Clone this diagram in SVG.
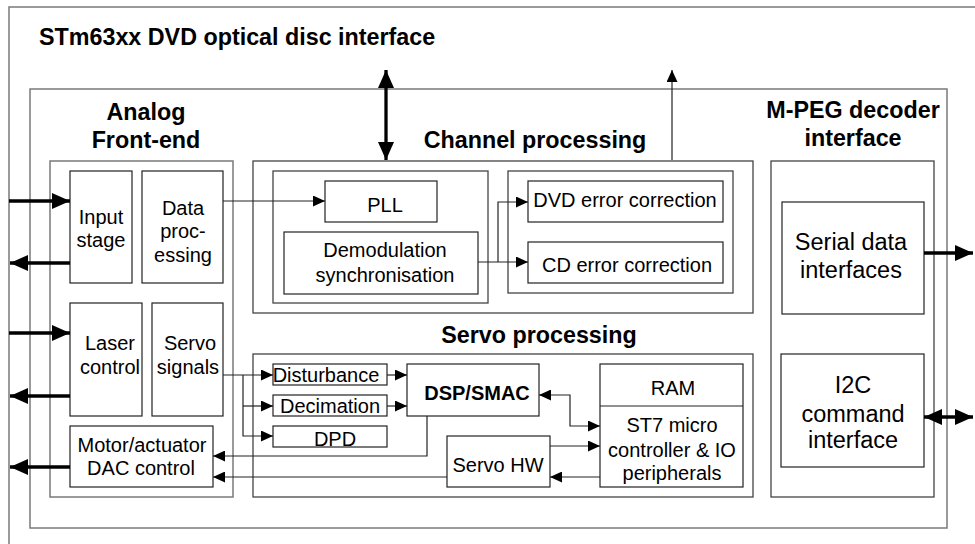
<svg xmlns="http://www.w3.org/2000/svg" width="975" height="544" viewBox="0 0 975 544">
<style>
.frame{fill:none;stroke:#7a7a7a;stroke-width:1.5}
.grp{fill:none;stroke:#444;stroke-width:1.3}
.box{fill:#fff;stroke:#222;stroke-width:1.2}
.t{font-family:"Liberation Sans",Arial,sans-serif;font-size:20px;fill:#000;text-anchor:middle}
.L{font-size:23.5px}
.h{font-family:"Liberation Sans",Arial,sans-serif;font-size:23.3px;font-weight:bold;fill:#000;text-anchor:middle}
.b{font-weight:bold}
.c{fill:none;stroke:#222;stroke-width:1.2}
.k{fill:none;stroke:#000;stroke-width:3.3}
</style>
<defs>
<marker id="a" markerUnits="userSpaceOnUse" markerWidth="12" markerHeight="11" refX="12" refY="5.5" orient="auto-start-reverse"><path d="M0,0 L12,5.5 L0,11 z" fill="#000"/></marker>
<marker id="A" markerUnits="userSpaceOnUse" markerWidth="18" markerHeight="16" refX="18" refY="8" orient="auto-start-reverse"><path d="M0,0 L18,8 L0,16 z" fill="#000"/></marker>
</defs>
<rect width="975" height="544" fill="#fff"/>

<g id="frame-outer">
<rect class="frame" x="9" y="7" width="1000" height="600"/>
<text class="h" x="39" y="45" style="text-anchor:start">STm63xx DVD optical disc interface</text>
</g>
<g id="frame-inner"><rect class="frame" x="30" y="89" width="917" height="439"/></g>

<g id="analog-frontend">
<rect class="frame" x="50" y="161" width="183" height="336"/>
<text class="h" x="146" y="120">Analog</text>
<text class="h" x="146" y="148">Front-end</text>
</g>
<g id="input-stage"><rect class="box" x="70" y="171" width="62" height="112"/>
<text class="t" x="101" y="224">Input</text><text class="t" x="101" y="247">stage</text></g>
<g id="data-processing"><rect class="box" x="142" y="171" width="81" height="112"/>
<text class="t" x="183" y="215">Data</text><text class="t" x="183" y="238">proc-</text><text class="t" x="183" y="262">essing</text></g>
<g id="laser-control"><rect class="box" x="70" y="303" width="72" height="113"/>
<text class="t" x="110" y="350">Laser</text><text class="t" x="110" y="374">control</text></g>
<g id="servo-signals"><rect class="box" x="152" y="303" width="71" height="113"/>
<text class="t" x="190" y="350">Servo</text><text class="t" x="188" y="374">signals</text></g>
<g id="motor-dac"><rect class="box" x="70" y="426" width="143" height="61"/>
<text class="t" x="142" y="452">Motor/actuator</text><text class="t" x="141" y="475">DAC control</text></g>

<g id="channel-processing">
<rect class="grp" x="253" y="161" width="500" height="152"/>
<text class="h" x="535" y="148">Channel processing</text>
<rect class="grp" x="273" y="171" width="215" height="132"/>
<rect class="grp" x="508" y="171" width="225" height="122"/>
</g>
<g id="pll"><rect class="box" x="325" y="181" width="112" height="41"/><text class="t" x="385" y="212">PLL</text></g>
<g id="demod"><rect class="box" x="284" y="232" width="194" height="62"/>
<text class="t" x="385" y="257">Demodulation</text><text class="t" x="385" y="282">synchronisation</text></g>
<g id="dvd-ecc"><rect class="box" x="528" y="181" width="195" height="41"/><text class="t" x="625" y="207">DVD error correction</text></g>
<g id="cd-ecc"><rect class="box" x="528" y="242" width="195" height="41"/><text class="t" x="627" y="272">CD error correction</text></g>

<g id="servo-processing">
<rect class="grp" x="253" y="354" width="500" height="143"/>
<text class="h" x="539" y="343">Servo processing</text>
</g>
<g id="disturbance"><rect class="box" x="273" y="364" width="114" height="21"/><text class="t" x="326" y="382">Disturbance</text></g>
<g id="decimation"><rect class="box" x="273" y="395" width="114" height="21"/><text class="t" x="330" y="413">Decimation</text></g>
<g id="dpd"><rect class="box" x="273" y="426" width="114" height="21"/><text class="t" x="335" y="446">DPD</text></g>
<g id="dsp-smac"><rect class="box" x="407" y="364" width="132" height="52"/><text class="t b" x="477" y="400">DSP/SMAC</text></g>
<g id="st7"><rect class="box" x="600" y="364" width="143" height="123"/>
<line x1="600" y1="406" x2="743" y2="406" stroke="#222" stroke-width="1.2"/>
<text class="t" x="673" y="395">RAM</text>
<text class="t" x="672" y="432">ST7 micro</text><text class="t" x="672" y="457">controller &amp; IO</text><text class="t" x="672" y="480">peripherals</text></g>
<g id="servo-hw"><rect class="box" x="447" y="436" width="103" height="51"/><text class="t" x="498" y="472">Servo HW</text></g>

<g id="mpeg-interface">
<rect class="grp" x="771" y="161" width="163" height="336"/>
<text class="h" x="853" y="118">M-PEG decoder</text>
<text class="h" x="853" y="146">interface</text>
</g>
<g id="serial-data"><rect class="box" x="782" y="202" width="142" height="112"/>
<text class="t L" x="851" y="250">Serial data</text><text class="t L" x="851" y="278">interfaces</text></g>
<g id="i2c"><rect class="box" x="781" y="354" width="143" height="113"/>
<text class="t L" x="853" y="393">I2C</text><text class="t L" x="853" y="422">command</text><text class="t L" x="853" y="448">interface</text></g>

<g id="connectors">
<path class="c" d="M223,201 H325" marker-end="url(#a)"/>
<path class="c" d="M478,262 H528" marker-end="url(#a)"/>
<path class="c" d="M498,262 V202 H528" marker-end="url(#a)"/>
<path class="c" d="M223,375 H273" marker-end="url(#a)"/>
<path class="c" d="M243,375 V436 H273" marker-end="url(#a)"/>
<path class="c" d="M243,406 H273" marker-end="url(#a)"/>
<path class="c" d="M387,375 H407" marker-end="url(#a)"/>
<path class="c" d="M387,406 H407" marker-end="url(#a)"/>
<path class="c" d="M427,416 V456 H213" marker-end="url(#a)"/>
<path class="c" d="M600,426 H570 V395 H539" marker-start="url(#a)" marker-end="url(#a)"/>
<path class="c" d="M550,446 H600" marker-end="url(#a)"/>
<path class="c" d="M600,477 H550" marker-end="url(#a)"/>
<path class="c" d="M447,477 H213" marker-end="url(#a)"/>
<path class="c" d="M672,160 V70" marker-end="url(#a)"/>
<path class="k" d="M386,70 V160" marker-start="url(#A)" marker-end="url(#A)"/>
<path class="k" d="M9,201 H70" marker-end="url(#A)"/>
<path class="k" d="M70,263 H10" marker-end="url(#A)"/>
<path class="k" d="M9,333 H70" marker-end="url(#A)"/>
<path class="k" d="M70,396 H10" marker-end="url(#A)"/>
<path class="k" d="M70,467 H10" marker-end="url(#A)"/>
<path class="k" d="M924,253 H973" marker-end="url(#A)"/>
<path class="k" d="M924,417 H973" marker-start="url(#A)" marker-end="url(#A)"/>
</g>
</svg>
